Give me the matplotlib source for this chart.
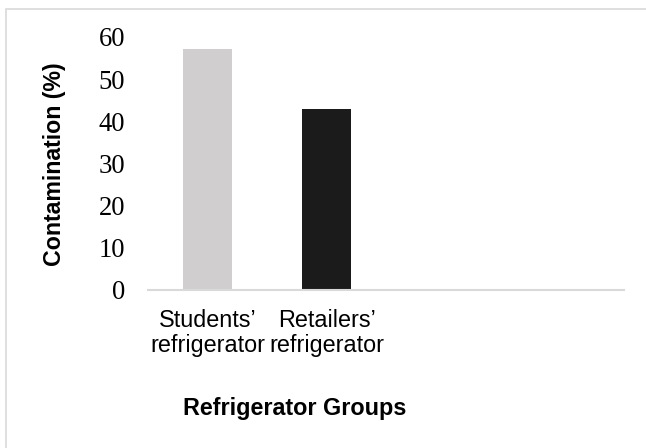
import matplotlib
matplotlib.use("Agg")
import matplotlib.pyplot as plt
from matplotlib.patches import Rectangle

categories = ["Students’\nrefrigerator", "Retailers’\nrefrigerator", "", ""]
values = [57.1, 42.9, None, None]
bar_colors = ["#d0cece", "#1b1b1b"]
yticks = [0, 10, 20, 30, 40, 50, 60]

W, H = 646, 448
fig = plt.figure(figsize=(W / 100, H / 100), dpi=100)
fig.patch.set_facecolor("white")

# outer light border (only top/left visible in reference)
fig.patches.append(Rectangle((5.5 / W, -0.1), 1.2, (H - 9.5) / H + 0.1,
                             transform=fig.transFigure, fill=False,
                             edgecolor="#d9d9d9", linewidth=1.2))

ax = fig.add_axes([148 / W, 1 - 289.5 / H, (624 - 148) / W, (289.5 - 37) / H])

xs = list(range(len(categories)))
for i, v in enumerate(values):
    if v is not None:
        ax.bar(xs[i], v, width=0.41, color=bar_colors[i], zorder=2)

ax.set_xlim(-0.5, len(categories) - 0.5)
ax.set_ylim(0, 60)
ax.set_yticks(yticks)
ax.set_yticklabels([str(t) for t in yticks], fontfamily="Liberation Serif", fontsize=19.2)
ax.set_xticks(xs)
ax.set_xticklabels(categories, fontfamily="Liberation Sans", fontsize=16.8, linespacing=1.12)

ax.tick_params(axis="y", length=0, pad=16.5)
ax.tick_params(axis="x", length=0, pad=14)

for s in ["left", "right", "top"]:
    ax.spines[s].set_visible(False)
ax.spines["bottom"].set_color("#d9d9d9")
ax.spines["bottom"].set_linewidth(1.5)
ax.spines["bottom"].set_zorder(3)

ax.set_xlabel("Refrigerator Groups", fontfamily="Liberation Sans", fontweight="bold", fontsize=16.8)
ax.xaxis.set_label_coords((294.7 - 148) / 476, (289.5 - 408) / 252.5)
ax.xaxis.label.set_va("center")

ax.set_ylabel("Contamination (%)", fontfamily="Liberation Sans", fontweight="bold", fontsize=16.7)
ax.yaxis.set_label_coords((54 - 148) / 476, (289.5 - 164.5) / 252.5)
ax.yaxis.label.set_va("center")
ax.yaxis.label.set_ha("center")

fig.savefig("out.png", dpi=100)
